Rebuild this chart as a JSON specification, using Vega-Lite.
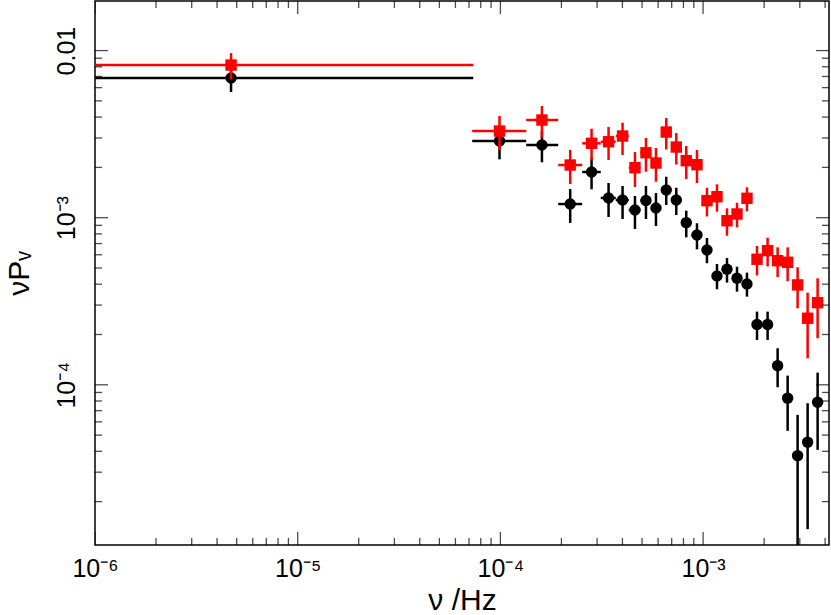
{
  "$schema": "https://vega.github.io/schema/vega-lite/v6.json",
  "width": 734,
  "height": 544,
  "autosize": "none",
  "padding": {"left": 95, "top": 1, "right": 2, "bottom": 70},
  "background": "white",
  "config": {
    "view": {"stroke": "black", "strokeWidth": 1.5},
    "axis": {
      "labelFont": "Liberation Sans",
      "labelFontSize": 25,
      "titleFont": "Liberation Sans",
      "titleFontSize": 30,
      "titleFontWeight": "normal",
      "labelColor": "black",
      "titleColor": "black",
      "ticks": false,
      "domain": false,
      "grid": false,
      "labelOverlap": false,
      "labelFlush": false,
      "labelBound": false
    }
  },
  "datasets": {
    "xt": [
      {"t": 1e-6, "major": true}, {"t": 2e-6, "major": false}, {"t": 3e-6, "major": false}, {"t": 4e-6, "major": false}, {"t": 5e-6, "major": false}, {"t": 6e-6, "major": false}, {"t": 7e-6, "major": false}, {"t": 8e-6, "major": false}, {"t": 9e-6, "major": false},
      {"t": 1e-5, "major": true}, {"t": 2e-5, "major": false}, {"t": 3e-5, "major": false}, {"t": 4e-5, "major": false}, {"t": 5e-5, "major": false}, {"t": 6e-5, "major": false}, {"t": 7e-5, "major": false}, {"t": 8e-5, "major": false}, {"t": 9e-5, "major": false},
      {"t": 1e-4, "major": true}, {"t": 2e-4, "major": false}, {"t": 3e-4, "major": false}, {"t": 4e-4, "major": false}, {"t": 5e-4, "major": false}, {"t": 6e-4, "major": false}, {"t": 7e-4, "major": false}, {"t": 8e-4, "major": false}, {"t": 9e-4, "major": false},
      {"t": 1e-3, "major": true}, {"t": 2e-3, "major": false}, {"t": 3e-3, "major": false}, {"t": 4e-3, "major": false}
    ],
    "yt": [
      {"t": 2e-5, "major": false}, {"t": 3e-5, "major": false}, {"t": 4e-5, "major": false}, {"t": 5e-5, "major": false}, {"t": 6e-5, "major": false}, {"t": 7e-5, "major": false}, {"t": 8e-5, "major": false}, {"t": 9e-5, "major": false},
      {"t": 1e-4, "major": true}, {"t": 2e-4, "major": false}, {"t": 3e-4, "major": false}, {"t": 4e-4, "major": false}, {"t": 5e-4, "major": false}, {"t": 6e-4, "major": false}, {"t": 7e-4, "major": false}, {"t": 8e-4, "major": false}, {"t": 9e-4, "major": false},
      {"t": 1e-3, "major": true}, {"t": 2e-3, "major": false}, {"t": 3e-3, "major": false}, {"t": 4e-3, "major": false}, {"t": 5e-3, "major": false}, {"t": 6e-3, "major": false}, {"t": 7e-3, "major": false}, {"t": 8e-3, "major": false}, {"t": 9e-3, "major": false},
      {"t": 1e-2, "major": true}
    ],
    "pts": [
      {"s": "A", "f": 4.69e-6, "flo": 3e-7, "fhi": 7.35e-5, "v": 6.85e-3, "vlo": 5.65e-3, "vhi": 8.05e-3},
      {"s": "A", "f": 9.90e-5, "flo": 7.26e-5, "fhi": 1.341e-4, "v": 2.874e-3, "vlo": 2.235e-3, "vhi": 3.513e-3},
      {"s": "A", "f": 1.603e-4, "flo": 1.341e-4, "fhi": 1.929e-4, "v": 2.721e-3, "vlo": 2.145e-3, "vhi": 3.297e-3},
      {"s": "A", "f": 2.21e-4, "flo": 1.929e-4, "fhi": 2.533e-4, "v": 1.207e-3, "vlo": 9.30e-4, "vhi": 1.485e-3},
      {"s": "A", "f": 2.817e-4, "flo": 2.533e-4, "fhi": 3.127e-4, "v": 1.877e-3, "vlo": 1.478e-3, "vhi": 2.276e-3},
      {"s": "A", "f": 3.417e-4, "flo": 3.127e-4, "fhi": 3.708e-4, "v": 1.312e-3, "vlo": 1.010e-3, "vhi": 1.613e-3},
      {"s": "A", "f": 4.006e-4, "flo": 3.708e-4, "fhi": 4.298e-4, "v": 1.276e-3, "vlo": 9.82e-4, "vhi": 1.547e-3},
      {"s": "A", "f": 4.612e-4, "flo": 4.298e-4, "fhi": 4.909e-4, "v": 1.112e-3, "vlo": 8.56e-4, "vhi": 1.348e-3},
      {"s": "A", "f": 5.226e-4, "flo": 4.909e-4, "fhi": 5.530e-4, "v": 1.267e-3, "vlo": 9.82e-4, "vhi": 1.547e-3},
      {"s": "A", "f": 5.855e-4, "flo": 5.530e-4, "fhi": 6.204e-4, "v": 1.143e-3, "vlo": 8.92e-4, "vhi": 1.405e-3},
      {"s": "A", "f": 6.58e-4, "flo": 6.204e-4, "fhi": 6.966e-4, "v": 1.464e-3, "vlo": 1.191e-3, "vhi": 1.758e-3},
      {"s": "A", "f": 7.375e-4, "flo": 6.966e-4, "fhi": 7.806e-4, "v": 1.276e-3, "vlo": 1.038e-3, "vhi": 1.511e-3},
      {"s": "A", "f": 8.26e-4, "flo": 7.806e-4, "fhi": 8.773e-4, "v": 9.34e-4, "vlo": 7.63e-4, "vhi": 1.101e-3},
      {"s": "A", "f": 9.33e-4, "flo": 8.773e-4, "fhi": 9.876e-4, "v": 7.88e-4, "vlo": 6.47e-4, "vhi": 9.26e-4},
      {"s": "A", "f": 1.045e-3, "flo": 9.876e-4, "fhi": 1.106e-3, "v": 6.41e-4, "vlo": 5.34e-4, "vhi": 7.56e-4},
      {"s": "A", "f": 1.171e-3, "flo": 1.106e-3, "fhi": 1.240e-3, "v": 4.48e-4, "vlo": 3.73e-4, "vhi": 5.28e-4},
      {"s": "A", "f": 1.312e-3, "flo": 1.240e-3, "fhi": 1.389e-3, "v": 4.91e-4, "vlo": 4.09e-4, "vhi": 5.74e-4},
      {"s": "A", "f": 1.470e-3, "flo": 1.389e-3, "fhi": 1.556e-3, "v": 4.34e-4, "vlo": 3.61e-4, "vhi": 5.09e-4},
      {"s": "A", "f": 1.646e-3, "flo": 1.556e-3, "fhi": 1.743e-3, "v": 4.01e-4, "vlo": 3.37e-4, "vhi": 4.69e-4},
      {"s": "A", "f": 1.845e-3, "flo": 1.743e-3, "fhi": 1.960e-3, "v": 2.297e-4, "vlo": 1.856e-4, "vhi": 2.740e-4},
      {"s": "A", "f": 2.081e-3, "flo": 1.960e-3, "fhi": 2.204e-3, "v": 2.297e-4, "vlo": 1.856e-4, "vhi": 2.740e-4},
      {"s": "A", "f": 2.332e-3, "flo": 2.204e-3, "fhi": 2.469e-3, "v": 1.302e-4, "vlo": 9.67e-5, "vhi": 1.655e-4},
      {"s": "A", "f": 2.613e-3, "flo": 2.469e-3, "fhi": 2.766e-3, "v": 8.32e-5, "vlo": 5.30e-5, "vhi": 1.135e-4},
      {"s": "A", "f": 2.926e-3, "flo": 2.766e-3, "fhi": 3.098e-3, "v": 3.77e-5, "vlo": 9.3e-6, "vhi": 6.61e-5},
      {"s": "A", "f": 3.279e-3, "flo": 3.098e-3, "fhi": 3.471e-3, "v": 4.54e-5, "vlo": 1.369e-5, "vhi": 7.76e-5},
      {"s": "A", "f": 3.673e-3, "flo": 3.471e-3, "fhi": 3.888e-3, "v": 7.87e-5, "vlo": 4.08e-5, "vhi": 1.183e-4},
      {"s": "B", "f": 4.69e-6, "flo": 3e-7, "fhi": 7.35e-5, "v": 8.19e-3, "vlo": 6.72e-3, "vhi": 9.66e-3},
      {"s": "B", "f": 9.90e-5, "flo": 7.26e-5, "fhi": 1.341e-4, "v": 3.300e-3, "vlo": 2.54e-3, "vhi": 4.057e-3},
      {"s": "B", "f": 1.603e-4, "flo": 1.341e-4, "fhi": 1.929e-4, "v": 3.840e-3, "vlo": 3.02e-3, "vhi": 4.657e-3},
      {"s": "B", "f": 2.21e-4, "flo": 1.929e-4, "fhi": 2.533e-4, "v": 2.066e-3, "vlo": 1.591e-3, "vhi": 2.541e-3},
      {"s": "B", "f": 2.817e-4, "flo": 2.533e-4, "fhi": 3.127e-4, "v": 2.786e-3, "vlo": 2.2e-3, "vhi": 3.406e-3},
      {"s": "B", "f": 3.417e-4, "flo": 3.127e-4, "fhi": 3.708e-4, "v": 2.847e-3, "vlo": 2.214e-3, "vhi": 3.487e-3},
      {"s": "B", "f": 4.006e-4, "flo": 3.708e-4, "fhi": 4.298e-4, "v": 3.081e-3, "vlo": 2.371e-3, "vhi": 3.700e-3},
      {"s": "B", "f": 4.612e-4, "flo": 4.298e-4, "fhi": 4.909e-4, "v": 1.991e-3, "vlo": 1.527e-3, "vhi": 2.471e-3},
      {"s": "B", "f": 5.226e-4, "flo": 4.909e-4, "fhi": 5.530e-4, "v": 2.447e-3, "vlo": 1.884e-3, "vhi": 2.997e-3},
      {"s": "B", "f": 5.855e-4, "flo": 5.530e-4, "fhi": 6.204e-4, "v": 2.124e-3, "vlo": 1.642e-3, "vhi": 2.611e-3},
      {"s": "B", "f": 6.58e-4, "flo": 6.204e-4, "fhi": 6.966e-4, "v": 3.255e-3, "vlo": 2.56e-3, "vhi": 3.947e-3},
      {"s": "B", "f": 7.375e-4, "flo": 6.966e-4, "fhi": 7.806e-4, "v": 2.647e-3, "vlo": 2.08e-3, "vhi": 3.210e-3},
      {"s": "B", "f": 8.26e-4, "flo": 7.806e-4, "fhi": 8.773e-4, "v": 2.193e-3, "vlo": 1.70e-3, "vhi": 2.684e-3},
      {"s": "B", "f": 9.33e-4, "flo": 8.773e-4, "fhi": 9.876e-4, "v": 2.075e-3, "vlo": 1.61e-3, "vhi": 2.541e-3},
      {"s": "B", "f": 1.045e-3, "flo": 9.876e-4, "fhi": 1.106e-3, "v": 1.264e-3, "vlo": 1.017e-3, "vhi": 1.511e-3},
      {"s": "B", "f": 1.171e-3, "flo": 1.106e-3, "fhi": 1.240e-3, "v": 1.335e-3, "vlo": 1.086e-3, "vhi": 1.584e-3},
      {"s": "B", "f": 1.312e-3, "flo": 1.240e-3, "fhi": 1.389e-3, "v": 9.59e-4, "vlo": 7.80e-4, "vhi": 1.138e-3},
      {"s": "B", "f": 1.470e-3, "flo": 1.389e-3, "fhi": 1.556e-3, "v": 1.052e-3, "vlo": 8.75e-4, "vhi": 1.229e-3},
      {"s": "B", "f": 1.646e-3, "flo": 1.556e-3, "fhi": 1.743e-3, "v": 1.306e-3, "vlo": 1.092e-3, "vhi": 1.520e-3},
      {"s": "B", "f": 1.845e-3, "flo": 1.743e-3, "fhi": 1.960e-3, "v": 5.64e-4, "vlo": 4.51e-4, "vhi": 6.77e-4},
      {"s": "B", "f": 2.081e-3, "flo": 1.960e-3, "fhi": 2.204e-3, "v": 6.35e-4, "vlo": 5.11e-4, "vhi": 7.59e-4},
      {"s": "B", "f": 2.332e-3, "flo": 2.204e-3, "fhi": 2.469e-3, "v": 5.53e-4, "vlo": 4.41e-4, "vhi": 6.65e-4},
      {"s": "B", "f": 2.613e-3, "flo": 2.469e-3, "fhi": 2.766e-3, "v": 5.41e-4, "vlo": 4.17e-4, "vhi": 6.65e-4},
      {"s": "B", "f": 2.926e-3, "flo": 2.766e-3, "fhi": 3.098e-3, "v": 3.96e-4, "vlo": 2.87e-4, "vhi": 5.05e-4},
      {"s": "B", "f": 3.279e-3, "flo": 3.098e-3, "fhi": 3.471e-3, "v": 2.502e-4, "vlo": 1.442e-4, "vhi": 3.56e-4},
      {"s": "B", "f": 3.673e-3, "flo": 3.471e-3, "fhi": 3.888e-3, "v": 3.10e-4, "vlo": 1.90e-4, "vhi": 4.34e-4}
    ]
  },
  "data": {"name": "pts"},
  "layer": [
    {
      "transform": [{"filter": "datum.s == 'A'"}],
      "mark": {"type": "rule", "color": "black", "strokeWidth": 2.5, "clip": true},
      "encoding": {
        "x": {"field": "flo", "type": "quantitative",
          "scale": {"type": "log", "domain": [1e-6, 4.18e-3], "nice": false, "zero": false},
          "axis": {"orient": "bottom", "title": "ν /Hz", "titlePadding": 4,
            "values": [1e-6, 1e-5, 1e-4, 1e-3],
            "labelExpr": "datum.value == 1e-6 ? '10⁻⁶' : datum.value == 1e-5 ? '10⁻⁵' : datum.value == 1e-4 ? '10⁻⁴' : '10⁻³'",
            "labelPadding": 11}},
        "x2": {"field": "fhi"},
        "y": {"field": "v", "type": "quantitative",
          "scale": {"type": "log", "domain": [1.1e-5, 0.0198], "nice": false, "zero": false},
          "axis": {"orient": "left", "title": "νPᵥ", "titleFontSize": 30, "titlePadding": 20,
            "values": [1e-4, 1e-3, 1e-2],
            "labelExpr": "datum.value == 1e-2 ? '0.01' : datum.value == 1e-3 ? '10⁻³' : '10⁻⁴'",
            "labelAngle": -90, "labelAlign": "center", "labelBaseline": "bottom",
            "labelPadding": 16}}
      }
    },
    {
      "transform": [{"filter": "datum.s == 'A'"}],
      "mark": {"type": "rule", "color": "black", "strokeWidth": 2.5, "clip": true},
      "encoding": {
        "x": {"field": "f", "type": "quantitative"},
        "y": {"field": "vlo", "type": "quantitative"},
        "y2": {"field": "vhi"}
      }
    },
    {
      "transform": [{"filter": "datum.s == 'A'"}],
      "mark": {"type": "point", "shape": "circle", "filled": true, "color": "black", "size": 130, "opacity": 1, "clip": true},
      "encoding": {
        "x": {"field": "f", "type": "quantitative"},
        "y": {"field": "v", "type": "quantitative"}
      }
    },
    {
      "transform": [{"filter": "datum.s == 'B'"}],
      "mark": {"type": "rule", "color": "#ff0000", "strokeWidth": 2.5, "clip": true},
      "encoding": {
        "x": {"field": "flo", "type": "quantitative"},
        "x2": {"field": "fhi"},
        "y": {"field": "v", "type": "quantitative"}
      }
    },
    {
      "transform": [{"filter": "datum.s == 'B'"}],
      "mark": {"type": "rule", "color": "#ff0000", "strokeWidth": 2.5, "clip": true},
      "encoding": {
        "x": {"field": "f", "type": "quantitative"},
        "y": {"field": "vlo", "type": "quantitative"},
        "y2": {"field": "vhi"}
      }
    },
    {
      "transform": [{"filter": "datum.s == 'B'"}],
      "mark": {"type": "point", "shape": "square", "filled": true, "color": "#ff0000", "size": 130, "opacity": 1, "clip": true},
      "encoding": {
        "x": {"field": "f", "type": "quantitative"},
        "y": {"field": "v", "type": "quantitative"}
      }
    },
    {
      "data": {"name": "xt"},
      "mark": {"type": "tick", "orient": "vertical", "color": "black", "thickness": 1.3, "clip": true},
      "encoding": {
        "x": {"field": "t", "type": "quantitative"},
        "y": {"datum": 1.1e-5, "type": "quantitative"},
        "size": {"condition": {"test": "datum.major", "value": 26}, "value": 14}
      }
    },
    {
      "data": {"name": "xt"},
      "mark": {"type": "tick", "orient": "vertical", "color": "black", "thickness": 1.3, "clip": true},
      "encoding": {
        "x": {"field": "t", "type": "quantitative"},
        "y": {"datum": 0.0198, "type": "quantitative"},
        "size": {"condition": {"test": "datum.major", "value": 26}, "value": 14}
      }
    },
    {
      "data": {"name": "yt"},
      "mark": {"type": "tick", "orient": "horizontal", "color": "black", "thickness": 1.3, "clip": true},
      "encoding": {
        "y": {"field": "t", "type": "quantitative"},
        "x": {"datum": 1e-6, "type": "quantitative"},
        "size": {"condition": {"test": "datum.major", "value": 26}, "value": 14}
      }
    },
    {
      "data": {"name": "yt"},
      "mark": {"type": "tick", "orient": "horizontal", "color": "black", "thickness": 1.3, "clip": true},
      "encoding": {
        "y": {"field": "t", "type": "quantitative"},
        "x": {"datum": 4.18e-3, "type": "quantitative"},
        "size": {"condition": {"test": "datum.major", "value": 26}, "value": 14}
      }
    }
  ]
}
